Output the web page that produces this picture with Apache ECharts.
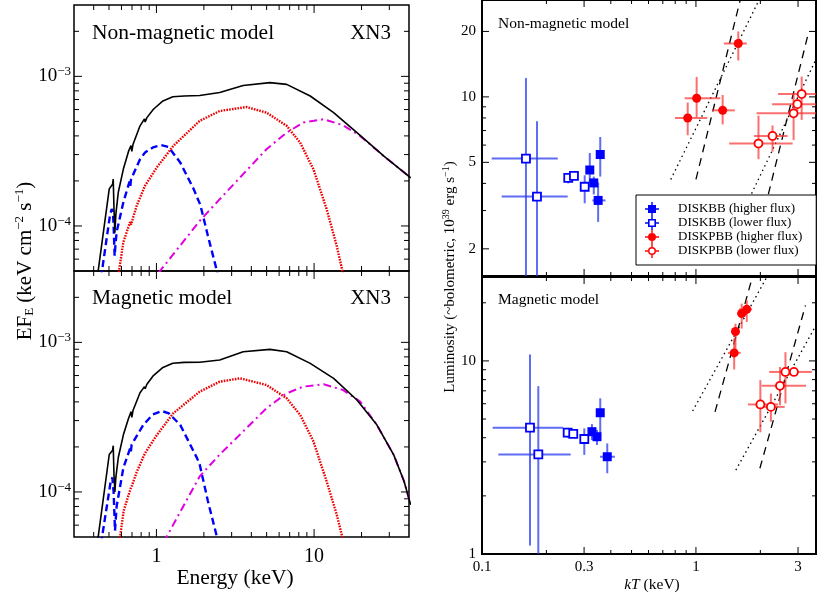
<!DOCTYPE html>
<html>
<head>
<meta charset="utf-8">
<script src="https://cdn.jsdelivr.net/npm/echarts@6/dist/echarts.min.js"></script>
<style>
html, body { margin: 0; padding: 0; background: #fff; }
#main { width: 817px; height: 596px; }
</style>
</head>
<body>
<div id="main"></div>
<script>
var SERIF = 'Liberation Serif';

// ---- spectra, non-magnetic model (E keV, EF_E) ----
var nmTotal = [[0.42,4.4e-5],[0.502,1.77e-4],[0.527,1.9e-4],[0.532,2.06e-4],[0.538,1.3e-4],[0.545,9e-5],[0.553,1.2e-4],[0.573,1.68e-4],[0.617,2.4e-4],[0.665,3.15e-4],[0.69,3.45e-4],[0.698,3.15e-4],[0.71,3.5e-4],[0.787,4.67e-4],[0.84,5.2e-4],[0.848,4.95e-4],[0.87,5.3e-4],[0.957,6.03e-4],[1.1,6.85e-4],[1.27,7.3e-4],[1.5,7.4e-4],[1.88,7.45e-4],[2.52,7.8e-4],[3.55,8.7e-4],[5.24,9.08e-4],[6.7,8.84e-4],[9.45,7.39e-4],[13.3,5.73e-4],[18.7,4.21e-4],[27.6,2.94e-4],[41,2.1e-4]];
var nmDiskbb = [[0.445,4.5e-5],[0.507,1.17e-4],[0.52,1.3e-4],[0.53,1.25e-4],[0.537,9e-5],[0.543,6.3e-5],[0.55,7.5e-5],[0.559,9.1e-5],[0.617,1.44e-4],[0.675,1.98e-4],[0.683,1.85e-4],[0.69,2.05e-4],[0.787,2.79e-4],[0.847,3.1e-4],[0.95,3.35e-4],[1.07,3.47e-4],[1.19,3.38e-4],[1.415,2.66e-4],[1.72,1.77e-4],[1.9,1.38e-4],[2.12,8.6e-5],[2.47,4.6e-5]];
var nmDiskpbb = [[0.57,4.5e-5],[0.617,7.8e-5],[0.68,1.06e-4],[0.69,1.02e-4],[0.75,1.37e-4],[0.847,1.86e-4],[1.005,2.46e-4],[1.28,3.43e-4],[1.88,5.04e-4],[2.52,5.87e-4],[3.73,6.24e-4],[4.99,5.73e-4],[6.7,4.67e-4],[8.15,3.61e-4],[9.9,2.4e-4],[12.0,1.3e-4],[13.9,7.4e-5],[15.4,4.6e-5]];
var nmPow = [[1.03,4.85e-5],[1.88,1.08e-4],[2.52,1.51e-4],[3.55,2.22e-4],[4.99,3.26e-4],[6.7,4.21e-4],[8.55,4.91e-4],[11.5,5.17e-4],[15.3,4.71e-4],[19.6,4.0e-4],[27.6,2.94e-4],[41,2.1e-4]];

// ---- spectra, magnetic model ----
var mTotal = [[0.42,4.4e-5],[0.502,1.78e-4],[0.527,1.9e-4],[0.532,2.04e-4],[0.538,1.3e-4],[0.545,1.0e-4],[0.553,1.25e-4],[0.573,1.7e-4],[0.617,2.41e-4],[0.665,3.1e-4],[0.69,3.44e-4],[0.698,3.15e-4],[0.71,3.5e-4],[0.787,4.6e-4],[0.84,5.06e-4],[0.848,4.9e-4],[0.87,5.25e-4],[0.957,6.0e-4],[1.1,6.8e-4],[1.27,7.25e-4],[1.5,7.35e-4],[1.88,7.36e-4],[2.52,7.62e-4],[3.55,8.66e-4],[5.24,8.98e-4],[6.7,8.66e-4],[9.45,7.24e-4],[13.3,5.75e-4],[18.7,4.12e-4],[25,2.81e-4],[32,1.77e-4],[37.2,1.18e-4],[41,8.2e-5]];
var mDiskbb = [[0.445,4.5e-5],[0.511,1.15e-4],[0.525,1.25e-4],[0.535,1.0e-4],[0.546,5.5e-5],[0.559,8.0e-5],[0.617,1.45e-4],[0.68,1.95e-4],[0.688,1.85e-4],[0.696,2.07e-4],[0.826,2.81e-4],[0.95,3.3e-4],[1.08,3.48e-4],[1.2,3.35e-4],[1.415,2.81e-4],[1.806,1.69e-4],[1.88,1.53e-4],[2.12,8.7e-5],[2.47,4.6e-5]];
var mDiskpbb = [[0.58,4.5e-5],[0.62,7.5e-5],[0.685,1.05e-4],[0.696,1.09e-4],[0.75,1.36e-4],[0.847,1.82e-4],[1.005,2.4e-4],[1.28,3.36e-4],[1.88,4.68e-4],[2.52,5.46e-4],[3.4,5.75e-4],[4.99,5.19e-4],[6.7,4.23e-4],[8.15,3.28e-4],[9.9,2.18e-4],[12.0,1.18e-4],[13.9,7.1e-5],[15.4,4.6e-5]];
var mPow = [[1.11,4.6e-5],[1.88,1.27e-4],[2.52,1.78e-4],[3.55,2.54e-4],[4.99,3.63e-4],[6.7,4.57e-4],[8.55,5.06e-4],[11.5,5.25e-4],[15.3,4.8e-4],[19.6,4.02e-4],[25,2.81e-4],[32,1.77e-4],[37.2,1.18e-4],[41,8.2e-5]];

// ---- luminosity vs kT: [kT, kTlo, kThi, L, Llo, Lhi] ----
var nmDiskbbHigh = [[0.319,0.312,0.326,4.61,4.06,5.52],[0.333,0.326,0.340,4.02,3.56,4.3],[0.357,0.350,0.364,5.43,4.3,6.54],[0.349,0.328,0.378,3.34,2.66,4.04]];
var nmDiskbbLow = [[0.1605,0.111,0.226,5.2,1.0,12.2],[0.1807,0.1236,0.2515,3.48,1.0,7.73],[0.253,0.248,0.258,4.24,4.0,4.47],[0.269,0.264,0.274,4.33,4.17,4.47],[0.302,0.297,0.307,3.86,3.24,4.36]];
var nmDiskpbbHigh = [[0.915,0.798,1.129,8.0,6.66,9.42],[1.0075,0.886,1.30,9.85,8.06,12.35],[1.333,1.19,1.52,8.67,7.47,10.2],[1.577,1.35,1.73,17.6,14.7,20.0]];
var nmDiskpbbLow = [[1.96,1.43,2.83,6.1,5.17,8.2],[2.28,1.87,2.68,6.61,5.6,7.39],[2.86,1.92,4.0,8.4,6.33,10.4],[2.98,2.27,4.0,9.26,8.64,9.75],[3.12,2.42,4.0,10.3,7.84,12.4]];

var mDiskbbHigh = [[0.3265,0.320,0.333,4.3,3.89,4.71],[0.3447,0.338,0.351,4.05,3.67,4.39],[0.357,0.350,0.364,5.39,4.21,6.4],[0.385,0.356,0.418,3.19,2.62,3.74]];
var mDiskbbLow = [[0.1676,0.1122,0.2398,4.51,1.106,10.8],[0.1833,0.1192,0.2598,3.28,0.9,7.4],[0.2515,0.247,0.256,4.25,4.0,4.5],[0.267,0.262,0.272,4.19,4.0,4.4],[0.3007,0.295,0.306,3.94,3.26,4.47]];
var mDiskpbbHigh = [[1.509,1.41,1.62,11.0,9.03,13.06],[1.53,1.49,1.57,14.2,11.35,15.6],[1.636,1.56,1.72,17.6,14.7,19.8],[1.728,1.59,1.83,18.5,15.9,20.6]];
var mDiskpbbLow = [[2.0,1.75,2.42,5.95,4.27,7.95],[2.24,1.95,2.6,5.78,4.84,6.78],[2.47,2.03,3.27,7.43,5.9,9.3],[2.62,2.2,2.96,8.77,6.02,11.1],[2.87,2.5,3.48,8.77,8.4,9.2]];

// model lines (kT, L) end points
var nmLineDash1 = [[1.0,4.17],[1.64,30]];
var nmLineDot1 = [[0.7626,4.17],[2.045,30]];
var nmLineDash2 = [[2.18,3.57],[3.33,19.1]];
var nmLineDot2 = [[1.82,3.59],[3.7,15.4]];
var mLineDash1 = [[1.228,5.45],[1.849,28]];
var mLineDot1 = [[0.9645,5.5],[2.176,28]];
var mLineDash2 = [[1.99,2.78],[3.25,19.4]];
var mLineDot2 = [[1.536,2.72],[3.7,15.8]];

// ticks
var eMajor = [1, 10];
var eMinor = [0.4,0.5,0.6,0.7,0.8,0.9,2,3,4,5,6,7,8,9,20,30];
var fMajor = [1e-4, 1e-3];
var fMinor = [6e-5,7e-5,8e-5,9e-5,2e-4,3e-4,4e-4,5e-4,6e-4,7e-4,8e-4,9e-4,2e-3];
var tLabels = [0.1, 0.3, 1, 3];
var tMajor = [0.3, 1, 3];
var tMinor = [0.2,0.4,0.5,0.6,0.7,0.8,0.9,2];
var lTopLabels = [2, 5, 10, 20];
var lTopMinor = [3,4,6,7,8,9];
var lBotLabels = [1, 10];
var lBotMajor = [10];
var lBotMinor = [2,3,4,5,6,7,8,9,20];

// axis ranges per panel [xmin, xmax, ymin, ymax]
var ranges = [
  [0.3, 40, 5e-5, 3e-3],
  [0.3, 40, 5e-5, 3e-3],
  [0.1, 3.64, 1.5, 27.9],
  [0.1, 3.64, 1, 27.2]
];

// the axes are value axes on log10 of the data
var lg = function (v) { return Math.log10(v); };
var lgs = function (arr) { return arr.map(lg); };
var lgPts = function (arr) { return arr.map(function (p) { return [lg(p[0]), lg(p[1])]; }); };

var powLabel = function (v) { return '10{s|\u2212' + Math.round(-v) + '}'; };
var plainLabel = function (v) { return String(+Math.pow(10, v).toPrecision(3)); };

function makeAxis(dim, g, lab) {
  var r = ranges[g];
  var label = {show: false};
  if (lab) {
    label = Object.assign({show: true, fontFamily: SERIF, color: '#000'}, lab);
    label.customValues = lgs(lab.values);
    delete label.values;
  }
  return {
    type: 'value', gridIndex: g, position: dim === 'x' ? 'bottom' : 'left',
    min: lg(dim === 'x' ? r[0] : r[2]), max: lg(dim === 'x' ? r[1] : r[3]),
    axisLine: {show: false, onZero: false}, axisTick: {show: false},
    axisLabel: label, splitLine: {show: false}
  };
}

var fLab = {values: fMajor, fontSize: 19, margin: 3, formatter: powLabel,
  rich: {s: {fontSize: 13, fontFamily: SERIF, color: '#000', verticalAlign: 'bottom', padding: [0, 0, 9, 0]}}};
var xAxes = [
  makeAxis('x', 0, null),
  makeAxis('x', 1, {values: eMajor, fontSize: 20, margin: 10, formatter: plainLabel}),
  makeAxis('x', 2, null),
  makeAxis('x', 3, {values: tLabels, fontSize: 15, margin: 6, formatter: plainLabel})
];
var yAxes = [
  makeAxis('y', 0, fLab),
  makeAxis('y', 1, fLab),
  makeAxis('y', 2, {values: lTopLabels, fontSize: 15, margin: 6, formatter: plainLabel}),
  makeAxis('y', 3, {values: lBotLabels, fontSize: 15, margin: 6, formatter: plainLabel})
];

// inward ticks on both sides of a panel, placed through the axis scale
function ticks(g, dim, values, len) {
  var r = ranges[g];
  return {
    type: 'custom', xAxisIndex: g, yAxisIndex: g, clip: false, silent: true, animation: false, z: 6,
    data: values.map(function (v) { return dim === 'x' ? [lg(v), lg(r[2])] : [lg(r[0]), lg(v)]; }),
    encode: {x: 0, y: 1},
    renderItem: function (params, api) {
      var cs = params.coordSys;
      var p = api.coord([api.value(0), api.value(1)]);
      var st = {stroke: '#000', lineWidth: 1};
      var a, b;
      if (dim === 'x') {
        a = {x1: p[0], y1: cs.y + cs.height, x2: p[0], y2: cs.y + cs.height - len};
        b = {x1: p[0], y1: cs.y, x2: p[0], y2: cs.y + len};
      } else {
        a = {x1: cs.x, y1: p[1], x2: cs.x + len, y2: p[1]};
        b = {x1: cs.x + cs.width, y1: p[1], x2: cs.x + cs.width - len, y2: p[1]};
      }
      return {type: 'group', children: [
        {type: 'line', shape: a, style: st}, {type: 'line', shape: b, style: st}
      ]};
    }
  };
}

function specLine(data, g, color, width, type) {
  return {
    type: 'line', data: lgPts(data), xAxisIndex: g, yAxisIndex: g,
    showSymbol: false, symbol: 'none', smooth: false, clip: true, animation: false,
    lineStyle: {color: color, width: width, type: type}, z: 2
  };
}
function modelLine(data, g, type) {
  return {
    type: 'line', data: lgPts(data), xAxisIndex: g, yAxisIndex: g,
    showSymbol: false, symbol: 'none', clip: true, animation: false,
    lineStyle: {color: '#000', width: 1.3, type: type}, z: 1
  };
}
function errBars(data, g, color) {
  return {
    type: 'custom', data: data.map(lgs), xAxisIndex: g, yAxisIndex: g,
    encode: {x: 0, y: 3}, clip: true, animation: false, z: 2,
    renderItem: function (params, api) {
      var x = api.value(0), xl = api.value(1), xh = api.value(2);
      var y = api.value(3), yl = api.value(4), yh = api.value(5);
      var a = api.coord([xl, y]), b = api.coord([xh, y]);
      var c = api.coord([x, yl]), d = api.coord([x, yh]);
      var st = {stroke: color, lineWidth: 2};
      return {type: 'group', children: [
        {type: 'line', shape: {x1: a[0], y1: a[1], x2: b[0], y2: b[1]}, style: st},
        {type: 'line', shape: {x1: c[0], y1: c[1], x2: d[0], y2: d[1]}, style: st}
      ]};
    }
  };
}
function points(name, data, g, symbol, color, open) {
  return {
    type: 'scatter', name: name, data: data.map(function (r) { return [lg(r[0]), lg(r[3])]; }),
    xAxisIndex: g, yAxisIndex: g, symbol: symbol, symbolSize: open ? 8 : 9,
    animation: false, z: 3,
    itemStyle: open ? {color: '#fff', borderColor: color, borderWidth: 1.8, opacity: 1}
                    : {color: color, borderWidth: 0, opacity: 1}
  };
}

var BLUE = '#0000ff', BLUE_E = 'rgba(40,60,240,0.75)';
var RED = '#ff0000', RED_E = 'rgba(250,50,50,0.7)';
var N1 = 'DISKBB (higher flux)', N2 = 'DISKBB (lower flux)', N3 = 'DISKPBB (higher flux)', N4 = 'DISKPBB (lower flux)';

var series = [
  specLine(nmDiskbb, 0, '#0000ff', 2.4, [7, 4]),
  specLine(nmDiskpbb, 0, '#ee0000', 2.4, [1.6, 1.2]),
  specLine(nmPow, 0, '#e000e0', 2, [8, 4, 2, 4]),
  specLine(nmTotal, 0, '#000', 1.6, 'solid'),
  specLine(mDiskbb, 1, '#0000ff', 2.4, [7, 4]),
  specLine(mDiskpbb, 1, '#ee0000', 2.4, [1.6, 1.2]),
  specLine(mPow, 1, '#e000e0', 2, [8, 4, 2, 4]),
  specLine(mTotal, 1, '#000', 1.6, 'solid'),

  modelLine(nmLineDash1, 2, [8, 6]), modelLine(nmLineDot1, 2, [1.5, 3.5]),
  modelLine(nmLineDash2, 2, [8, 6]), modelLine(nmLineDot2, 2, [1.5, 3.5]),
  modelLine(mLineDash1, 3, [8, 6]), modelLine(mLineDot1, 3, [1.5, 3.5]),
  modelLine(mLineDash2, 3, [8, 6]), modelLine(mLineDot2, 3, [1.5, 3.5]),

  errBars(nmDiskbbHigh, 2, BLUE_E), errBars(nmDiskbbLow, 2, BLUE_E),
  errBars(nmDiskpbbHigh, 2, RED_E), errBars(nmDiskpbbLow, 2, RED_E),
  errBars(mDiskbbHigh, 3, BLUE_E), errBars(mDiskbbLow, 3, BLUE_E),
  errBars(mDiskpbbHigh, 3, RED_E), errBars(mDiskpbbLow, 3, RED_E),

  points(N1, nmDiskbbHigh, 2, 'rect', BLUE, false), points(N2, nmDiskbbLow, 2, 'rect', BLUE, true),
  points(N3, nmDiskpbbHigh, 2, 'circle', RED, false), points(N4, nmDiskpbbLow, 2, 'circle', RED, true),
  points(N1, mDiskbbHigh, 3, 'rect', BLUE, false), points(N2, mDiskbbLow, 3, 'rect', BLUE, true),
  points(N3, mDiskpbbHigh, 3, 'circle', RED, false), points(N4, mDiskpbbLow, 3, 'circle', RED, true),

  ticks(0, 'x', eMajor, 8), ticks(0, 'x', eMinor, 5), ticks(0, 'y', fMajor, 8), ticks(0, 'y', fMinor, 5),
  ticks(1, 'x', eMajor, 8), ticks(1, 'x', eMinor, 5), ticks(1, 'y', fMajor, 8), ticks(1, 'y', fMinor, 5),
  ticks(2, 'x', tMajor, 7), ticks(2, 'x', tMinor, 4), ticks(2, 'y', lTopLabels, 7), ticks(2, 'y', lTopMinor, 4),
  ticks(3, 'x', tMajor, 7), ticks(3, 'x', tMinor, 4), ticks(3, 'y', lBotMajor, 7), ticks(3, 'y', lBotMinor, 4)
];

// legend icons: marker with error-bar cross
var ICON_FSQ = 'path://M0,6.3H14V7.7H0Z M6.3,0H7.7V14H6.3Z M3,3H11V11H3Z';
var ICON_OSQ = 'path://M0,6.3H3V7.7H0Z M11,6.3H14V7.7H11Z M6.3,0H7.7V3H6.3Z M6.3,11H7.7V14H6.3Z M3,3H11V11H3Z M4.6,4.6V9.4H9.4V4.6Z';
var ICON_FC = 'path://M0,6.3H14V7.7H0Z M6.3,0H7.7V14H6.3Z M3,7A4,4 0 1,1 11,7A4,4 0 1,1 3,7Z';
var ICON_OC = 'path://M0,6.3H3V7.7H0Z M11,6.3H14V7.7H11Z M6.3,0H7.7V3H6.3Z M6.3,11H7.7V14H6.3Z M3,7A4,4 0 1,1 11,7A4,4 0 1,1 3,7Z M4.5,7A2.5,2.5 0 1,0 9.5,7A2.5,2.5 0 1,0 4.5,7Z';

var txt = function (x, y, text, size, align) {
  return {
    type: 'text', x: x, y: y, z: 10,
    style: {text: text, fontFamily: SERIF, fontSize: size, fill: '#000',
      align: align, textAlign: align, verticalAlign: 'middle', textVerticalAlign: 'middle'}
  };
};

var option = {
  animation: false,
  backgroundColor: '#fff',
  grid: [
    {left: 74, top: 5, width: 335, height: 266, show: true, borderColor: '#000', borderWidth: 1.5, backgroundColor: 'transparent'},
    {left: 74, top: 271, width: 335, height: 266, show: true, borderColor: '#000', borderWidth: 1.5, backgroundColor: 'transparent'},
    {left: 482, top: -4, width: 334, height: 280, show: true, borderColor: '#000', borderWidth: 2, backgroundColor: 'transparent'},
    {left: 482, top: 277, width: 334, height: 277, show: true, borderColor: '#000', borderWidth: 2, backgroundColor: 'transparent'}
  ],
  xAxis: xAxes,
  yAxis: yAxes,
  legend: {
    left: 636, top: 195, orient: 'vertical', selectedMode: false, z: 8,
    backgroundColor: '#fff', borderColor: '#000', borderWidth: 1,
    padding: [7, 14, 7, 9], itemGap: 0, itemWidth: 14, itemHeight: 14,
    textStyle: {fontFamily: SERIF, fontSize: 13, color: '#000', padding: [0, 0, 0, 14]},
    data: [
      {name: N1, icon: ICON_FSQ, itemStyle: {color: BLUE, borderWidth: 0}},
      {name: N2, icon: ICON_OSQ, itemStyle: {color: BLUE, borderWidth: 0}},
      {name: N3, icon: ICON_FC, itemStyle: {color: RED, borderWidth: 0}},
      {name: N4, icon: ICON_OC, itemStyle: {color: RED, borderWidth: 0}}
    ]
  },
  graphic: [
    txt(92, 33, 'Non-magnetic model', 21.5, 'left'),
    txt(391, 33, 'XN3', 21, 'right'),
    txt(92, 298, 'Magnetic model', 21.5, 'left'),
    txt(391, 298, 'XN3', 21, 'right'),
    txt(235, 578, 'Energy (keV)', 21.5, 'center'),
    txt(498, 24, 'Non-magnetic model', 15.5, 'left'),
    txt(498, 300, 'Magnetic model', 15.5, 'left'),
    {
      type: 'text', x: 25, y: 261, rotation: Math.PI / 2, z: 10,
      style: {
        text: '{n|EF}{b|E}{n| (keV cm}{p|\u22122}{n| s}{p|\u22121}{n|)}',
        align: 'center', textAlign: 'center', verticalAlign: 'middle', textVerticalAlign: 'middle',
        rich: {
          n: {fontFamily: SERIF, fontSize: 21, fill: '#000', color: '#000'},
          b: {fontFamily: SERIF, fontSize: 13, fill: '#000', color: '#000', verticalAlign: 'top', padding: [10, 0, 0, 0]},
          p: {fontFamily: SERIF, fontSize: 13, fill: '#000', color: '#000', verticalAlign: 'bottom', padding: [0, 0, 10, 0]}
        }
      }
    },
    {
      type: 'text', x: 450, y: 277, rotation: Math.PI / 2, z: 10,
      style: {
        text: '{n|Luminosity (~bolometric, 10}{p|39}{n| erg s}{p|\u22121}{n|)}',
        align: 'center', textAlign: 'center', verticalAlign: 'middle', textVerticalAlign: 'middle',
        rich: {
          n: {fontFamily: SERIF, fontSize: 15, fill: '#000', color: '#000'},
          p: {fontFamily: SERIF, fontSize: 10, fill: '#000', color: '#000', verticalAlign: 'bottom', padding: [0, 0, 7, 0]}
        }
      }
    },
    {
      type: 'text', x: 652, y: 585, z: 10,
      style: {
        text: '{i|kT}{n| (keV)}',
        align: 'center', textAlign: 'center', verticalAlign: 'middle', textVerticalAlign: 'middle',
        rich: {
          i: {fontFamily: SERIF, fontSize: 15.5, fontStyle: 'italic', fill: '#000', color: '#000'},
          n: {fontFamily: SERIF, fontSize: 15.5, fill: '#000', color: '#000'}
        }
      }
    }
  ],
  series: series
};

var chart = echarts.init(document.getElementById('main'), null, {renderer: 'canvas'});
chart.setOption(option);
</script>
</body>
</html>
